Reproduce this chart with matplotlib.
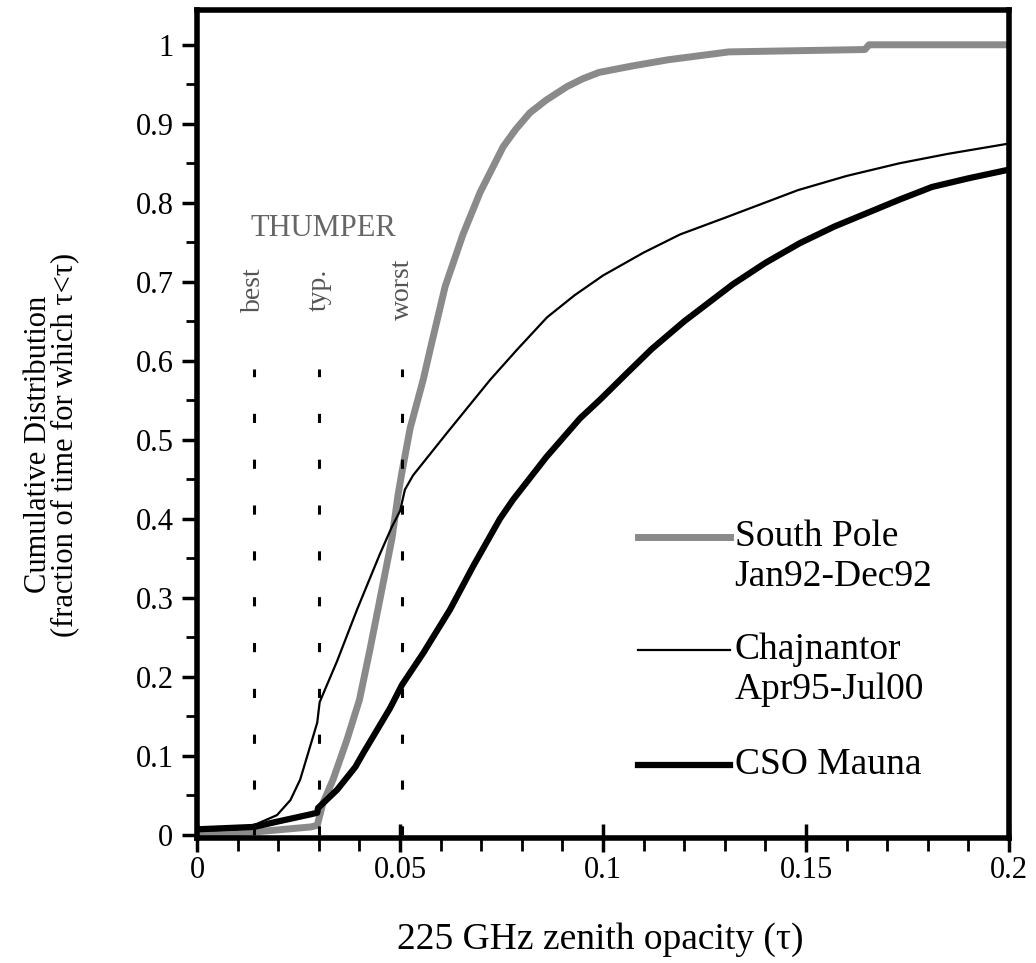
import matplotlib
matplotlib.use('Agg')
import matplotlib.pyplot as plt
import numpy as np

# South Pole, Jan92-Dec92
tau_sp = [0.0, 0.015, 0.028, 0.0296, 0.031, 0.0335, 0.0369, 0.040, 0.0426, 0.045,
          0.048, 0.0495, 0.0505, 0.0525, 0.0557, 0.0574, 0.0611, 0.0655, 0.0697,
          0.0754, 0.0785, 0.082, 0.086, 0.0911, 0.095, 0.099, 0.107, 0.116, 0.131,
          0.1645, 0.1655, 0.2]
cdf_sp = [0.0, 0.004, 0.01, 0.012, 0.04, 0.07, 0.12, 0.171, 0.235, 0.297,
          0.375, 0.43, 0.46, 0.515, 0.576, 0.614, 0.694, 0.76, 0.813,
          0.871, 0.893, 0.914, 0.93, 0.947, 0.957, 0.965, 0.973, 0.981, 0.991,
          0.994, 1.0, 1.0]

# Chajnantor, Apr95-Jul00
tau_ch = [0.0, 0.01, 0.0148, 0.0197, 0.023, 0.0254, 0.0271, 0.0296, 0.0302, 0.0345,
          0.0394, 0.045, 0.048, 0.050, 0.0512, 0.0532, 0.0616, 0.0722, 0.0788,
          0.0862, 0.093, 0.1, 0.11, 0.119, 0.13, 0.148, 0.16, 0.173, 0.185, 0.2]
cdf_ch = [0.005, 0.007, 0.014, 0.025, 0.044, 0.07, 0.099, 0.142, 0.168, 0.22,
          0.285, 0.355, 0.39, 0.41, 0.437, 0.455, 0.509, 0.576, 0.614,
          0.655, 0.683, 0.708, 0.737, 0.76, 0.781, 0.816, 0.834, 0.850, 0.862, 0.875]

# CSO Mauna Kea
tau_cso = [0.0, 0.014, 0.02, 0.028, 0.0296, 0.0298, 0.0345, 0.039, 0.041, 0.0475,
           0.0505, 0.0557, 0.0623, 0.068, 0.0746, 0.0778, 0.086, 0.0943, 0.0993,
           0.106, 0.112, 0.12, 0.132, 0.14, 0.1485, 0.157, 0.165, 0.173, 0.181,
           0.19, 0.2]
cdf_cso = [0.007, 0.01, 0.017, 0.026, 0.028, 0.034, 0.057, 0.086, 0.104, 0.160,
           0.19, 0.230, 0.285, 0.34, 0.40, 0.424, 0.478, 0.527, 0.551,
           0.585, 0.615, 0.65, 0.697, 0.724, 0.749, 0.77, 0.787, 0.804, 0.820,
           0.831, 0.842]

# THUMPER observing conditions
thumper_tau = [0.014, 0.03, 0.0505]
thumper_names = ['best', 'typ.', 'worst']

plt.rcParams['font.family'] = ['Liberation Serif', 'DejaVu Serif']

fig = plt.figure(figsize=(10.36, 9.63), dpi=100)
ax = fig.add_axes([0.1902, 0.1298, 0.7838, 0.8598])

gray = '#8a8a8a'
ax.plot(tau_sp, cdf_sp, color=gray, lw=5)
ax.plot(tau_ch, cdf_ch, color='black', lw=1.6)
ax.plot(tau_cso, cdf_cso, color='black', lw=4.5)

for t, name in zip(thumper_tau, thumper_names):
    ax.plot([t, t], [0, 0.59], color='black', lw=2.2, linestyle=(0, (3, 12)))
    ax.text(t, 0.69, name, rotation=90, ha='center', va='center',
            fontsize=20, color='#555555')
ax.text(0.031, 0.768, 'THUMPER', ha='center', va='center', fontsize=22, color='#666666')

# legend drawn by hand so the handle sits on the first text line
legend_items = [(gray, 5, 0.3635, ['South Pole', 'Jan92-Dec92']),
                ('black', 1.6, 0.227, ['Chajnantor', 'Apr95-Jul00']),
                ('black', 4.5, 0.088, ['CSO Mauna'])]
for col, lw, yy, lines in legend_items:
    ax.plot([0.543, 0.656], [yy, yy], color=col, lw=lw, transform=ax.transAxes)
    for k, txt in enumerate(lines):
        ax.text(0.662, yy - k * 0.0485, txt, transform=ax.transAxes,
                ha='left', va='center', fontsize=27)

ax.set_xlim(0, 0.2)
ax.set_ylim(-0.004, 1.044)
ax.set_xticks(np.arange(0, 0.2001, 0.05))
ax.set_xticklabels(['0', '0.05', '0.1', '0.15', '0.2'])
ax.set_xticks(np.arange(0, 0.2001, 0.01), minor=True)
ax.set_yticks(np.arange(0, 1.001, 0.1))
ax.set_yticklabels(['0', '0.1', '0.2', '0.3', '0.4', '0.5', '0.6', '0.7', '0.8', '0.9', '1'])
ax.set_yticks(np.arange(0, 1.001, 0.05), minor=True)

ax.tick_params(axis='x', which='major', direction='inout', length=20, width=2.5,
               labelsize=22, pad=3)
ax.tick_params(axis='x', which='minor', direction='out', length=9, width=2)
ax.tick_params(axis='y', which='major', direction='out', length=11, width=2.5,
               labelsize=22, pad=6)
ax.tick_params(axis='y', which='minor', direction='out', length=8, width=2)

for s in ax.spines.values():
    s.set_linewidth(4)

ax.set_xlabel('225 GHz zenith opacity (τ)', fontsize=27)
ax.xaxis.set_label_coords(0.496, -0.102)
ax.set_ylabel('Cumulative Distribution\n(fraction of time for which τ<τ)',
              fontsize=22, linespacing=0.9)
ax.yaxis.set_label_coords(-0.145, 0.475)

fig.savefig('out.png', dpi=100)
